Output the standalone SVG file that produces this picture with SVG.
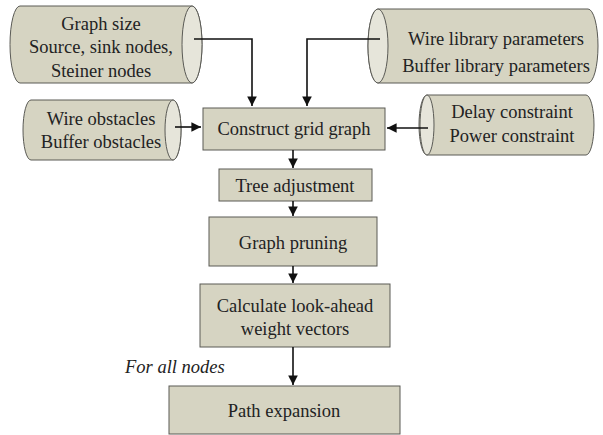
<svg xmlns="http://www.w3.org/2000/svg" width="603" height="435" viewBox="0 0 603 435">
<style>
.body{fill:#d6d4c2;stroke:#5a5a55;stroke-width:1}
.cap{fill:#e6e5da;stroke:#5a5a55;stroke-width:1}
.box{fill:#d6d4c2;stroke:#5a5a55;stroke-width:1}
.t{font-size:18.5px;fill:#222;text-anchor:middle}
.it{font-style:italic;text-anchor:start}
.ln{fill:none;stroke:#111;stroke-width:1.6}
</style>
<defs>
<marker id="ah" viewBox="0 0 10 10" refX="10" refY="5" markerWidth="6" markerHeight="6" orient="auto" markerUnits="strokeWidth">
<path d="M0,0 L10,5 L0,10 Z" fill="#111"/>
</marker>
</defs>
<rect width="603" height="435" fill="#fff"/>
<g font-family="'Liberation Serif', 'DejaVu Serif', serif">
<g id="cyl-graph-size">
<path class="body" d="M20,6 L192,6 A10,38.5 0 0 1 192,83 L20,83 A10,38.5 0 0 1 20,6 Z"/>
<ellipse class="cap" cx="192" cy="44.5" rx="10" ry="38.5"/>
<text class="t" x="101" y="30">Graph size</text>
<text class="t" x="101" y="53">Source, sink nodes,</text>
<text class="t" x="101" y="77">Steiner nodes</text>
</g>
<g id="cyl-library">
<path class="body" d="M378,9 L588,9 A10,37 0 0 1 588,83 L378,83 A10,37 0 0 1 378,9 Z"/>
<ellipse class="cap" cx="378" cy="46" rx="10" ry="37"/>
<text class="t" x="496" y="45">Wire library parameters</text>
<text class="t" x="496" y="72">Buffer library parameters</text>
</g>
<g id="cyl-obstacles">
<path class="body" d="M31,100 L173,100 A8,30 0 0 1 173,160 L31,160 A8,30 0 0 1 31,100 Z"/>
<ellipse class="cap" cx="173" cy="130" rx="8" ry="30"/>
<text class="t" x="101" y="125">Wire obstacles</text>
<text class="t" x="101" y="148">Buffer obstacles</text>
</g>
<g id="cyl-constraints">
<path class="body" d="M427,95 L586,95 A8,30 0 0 1 586,155 L427,155 A8,30 0 0 1 427,95 Z"/>
<ellipse class="cap" cx="427" cy="125" rx="7" ry="30"/>
<text class="t" x="512" y="118">Delay constraint</text>
<text class="t" x="512" y="142">Power constraint</text>
</g>
<g id="construct">
<rect class="box" x="203" y="108" width="182" height="42"/>
<text class="t" x="294" y="135">Construct grid graph</text>
</g>
<g id="tree">
<rect class="box" x="219" y="169" width="153" height="32"/>
<text class="t" x="295" y="192">Tree adjustment</text>
</g>
<g id="prune">
<rect class="box" x="209" y="217" width="168" height="49"/>
<text class="t" x="293" y="249">Graph pruning</text>
</g>
<g id="calc">
<rect class="box" x="200" y="284" width="190" height="63"/>
<text class="t" x="295" y="312">Calculate look-ahead</text>
<text class="t" x="295" y="335">weight vectors</text>
</g>
<g id="path">
<rect class="box" x="169" y="386" width="231" height="48"/>
<text class="t" x="284" y="417">Path expansion</text>
</g>
<text class="t it" x="125" y="373">For all nodes</text>
</g>
<g id="connectors">
<path class="ln" d="M194,39 L252,39 L252,106" marker-end="url(#ah)"/>
<path class="ln" d="M380,39 L307,39 L307,106" marker-end="url(#ah)"/>
<path class="ln" d="M175,127 L201,127" marker-end="url(#ah)"/>
<path class="ln" d="M428,128 L387,128" marker-end="url(#ah)"/>
<path class="ln" d="M293,150 L293,168" marker-end="url(#ah)"/>
<path class="ln" d="M293,201 L293,216" marker-end="url(#ah)"/>
<path class="ln" d="M293,266 L293,283" marker-end="url(#ah)"/>
<path class="ln" d="M293,347 L293,385" marker-end="url(#ah)"/>
</g>
</svg>
